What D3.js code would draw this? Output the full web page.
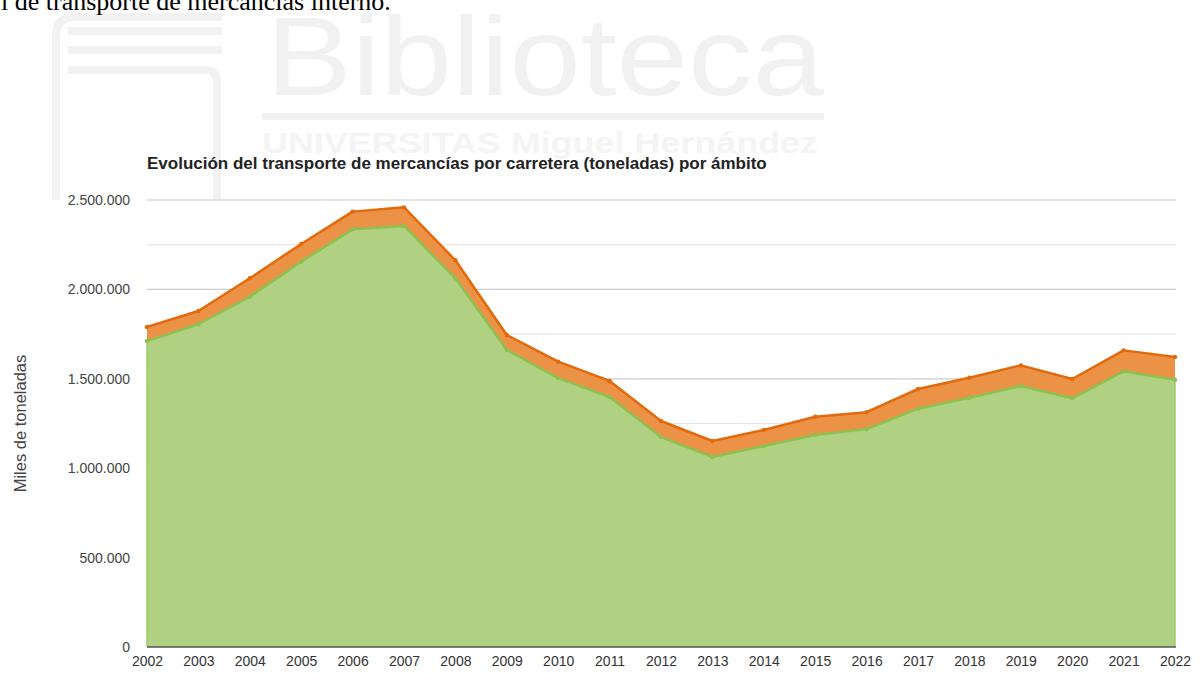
<!DOCTYPE html>
<html>
<head>
<meta charset="utf-8">
<script src="https://cdn.jsdelivr.net/npm/d3@7"></script>
<style>
  html, body { margin: 0; padding: 0; background: #fff; }
  svg { display: block; }
</style>
</head>
<body>
<svg id="chart" width="1204" height="673"></svg>
<script>
// ---- data (miles de toneladas) ----
const years = [2002, 2003, 2004, 2005, 2006, 2007, 2008, 2009, 2010, 2011, 2012,
               2013, 2014, 2015, 2016, 2017, 2018, 2019, 2020, 2021, 2022];
const interno = [1711000, 1805000, 1959000, 2155000, 2336000, 2355000, 2062000, 1661000,
                 1504000, 1398000, 1174000, 1063000, 1124000, 1186000, 1219000, 1333000,
                 1394000, 1460000, 1391000, 1542000, 1495000];
const internacional = [79000, 74000, 103000, 99000, 99000, 104000, 101000, 84000,
                       92000, 90000, 90000, 89000, 90000, 102000, 94000, 110000,
                       112000, 115000, 108000, 117000, 127000];
const yTicks = [0, 500000, 1000000, 1500000, 2000000, 2500000];
const yGrid = [250000, 500000, 750000, 1000000, 1250000, 1500000, 1750000, 2000000, 2250000, 2500000];
const xTicks = years;
const title = "Evolución del transporte de mercancías por carretera (toneladas) por ámbito";
const yLabel = "Miles de toneladas";
const topText = "l de transporte de mercancías interno.";
const wmTitle = "Biblioteca";
const wmSub = "UNIVERSITAS Miguel Hernández";

// ---- setup ----
const svg = d3.select("#chart");
const font = "'Liberation Sans', Arial, sans-serif";
const x = d3.scaleLinear().domain([2002, 2022]).range([147, 1175]);
const y = d3.scaleLinear().domain([0, 2500000]).range([647, 200]);
const loc = d3.formatLocale({decimal: ",", thousands: ".", grouping: [3], currency: ["", "€"]});
const fmt = loc.format(",d");

// ---- faint watermark ----
const wm = svg.append("g").attr("fill", "#f1f1f1").attr("stroke", "none");
wm.append("text").attr("x", 266).attr("y", 95)
  .attr("font-family", "'Liberation Sans Narrow', 'Liberation Sans', Arial, sans-serif")
  .attr("font-size", 112).attr("textLength", 558).attr("lengthAdjust", "spacingAndGlyphs")
  .text(wmTitle);
wm.append("rect").attr("x", 262).attr("y", 113).attr("width", 562).attr("height", 7);
wm.append("text").attr("x", 262).attr("y", 153)
  .attr("font-family", font).attr("font-size", 29).attr("font-weight", "bold")
  .attr("textLength", 556).attr("lengthAdjust", "spacingAndGlyphs")
  .attr("fill", "#f4f4f4")
  .text(wmSub);
const logo = svg.append("g").attr("fill", "none").attr("stroke", "#f2f2f2").attr("stroke-width", 8);
logo.append("path").attr("d", "M222,17 H75 Q56,17 56,36 V200");
logo.append("line").attr("x1", 68).attr("y1", 31).attr("x2", 222).attr("y2", 31);
logo.append("line").attr("x1", 68).attr("y1", 50).attr("x2", 222).attr("y2", 50);
logo.append("path").attr("d", "M68,70 H205 Q217,70 217,82 V200");

// ---- top cut text ----
svg.append("text").attr("x", 1).attr("y", 10)
  .attr("font-family", "'Liberation Serif', 'Times New Roman', serif")
  .attr("font-size", 26).attr("fill", "#000").text(topText);

// ---- title ----
svg.append("text").attr("x", 147).attr("y", 169)
  .attr("font-family", font).attr("font-size", 17).attr("font-weight", "bold")
  .attr("fill", "#222").text(title);

// ---- gridlines ----
svg.append("g").selectAll("line").data(yGrid).join("line")
  .attr("x1", 147).attr("x2", 1176)
  .attr("y1", d => y(d)).attr("y2", d => y(d))
  .attr("stroke", d => d % 500000 === 0 ? "#cccccc" : "#e6e6e6")
  .attr("stroke-width", 1.2);

// ---- stacked areas ----
const rows = years.map((yr, i) => ({year: yr, interno: interno[i], internacional: internacional[i]}));
const stack = d3.stack().keys(["interno", "internacional"]);
const series = stack(rows);
const fills = {interno: "#b0d181", internacional: "#ec9246"};
const strokes = {interno: "#8cc152", internacional: "#e36a0c"};

const area = d3.area()
  .x(d => x(d.data.year)).y0(d => y(d[0])).y1(d => y(d[1]));
const line = d3.line()
  .x(d => x(d.data.year)).y(d => y(d[1]));

svg.append("g").selectAll("path").data(series).join("path")
  .attr("d", area).attr("fill", s => fills[s.key]);

// side edges of the area
svg.append("line").attr("x1", x(2002)).attr("x2", x(2002))
  .attr("y1", y(0)).attr("y2", y(interno[0])).attr("stroke", "#9fcb6a").attr("stroke-width", 1.5);
svg.append("line").attr("x1", x(2022)).attr("x2", x(2022))
  .attr("y1", y(0)).attr("y2", y(interno[interno.length - 1])).attr("stroke", "#9fcb6a").attr("stroke-width", 1.5);

svg.append("g").selectAll("path").data(series).join("path")
  .attr("d", line).attr("fill", "none")
  .attr("stroke", s => strokes[s.key]).attr("stroke-width", 2.5)
  .attr("stroke-linejoin", "round");

svg.append("g").selectAll("g").data(series).join("g")
  .attr("fill", s => strokes[s.key])
  .selectAll("circle").data(s => s).join("circle")
  .attr("cx", d => x(d.data.year)).attr("cy", d => y(d[1])).attr("r", 2.2);

// ---- baseline ----
svg.append("line").attr("x1", 147).attr("x2", 1176)
  .attr("y1", y(0)).attr("y2", y(0)).attr("stroke", "#555").attr("stroke-width", 1.5);

// ---- axes ----
const yAxis = svg.append("g").attr("transform", "translate(147,0)")
  .call(d3.axisLeft(y).tickValues(yTicks).tickFormat(fmt).tickSize(0).tickPadding(17));
yAxis.select(".domain").remove();
yAxis.selectAll("text").attr("font-family", font).attr("font-size", 14).attr("fill", "#444");

const xAxis = svg.append("g").attr("transform", `translate(0,${y(0)})`)
  .call(d3.axisBottom(x).tickValues(xTicks).tickFormat(d3.format("d")).tickSize(0).tickPadding(9));
xAxis.select(".domain").remove();
xAxis.selectAll("text").attr("font-family", font).attr("font-size", 14).attr("fill", "#333");

// ---- y label ----
svg.append("text")
  .attr("transform", `translate(26,${(y(0) + y(2500000)) / 2}) rotate(-90)`)
  .attr("text-anchor", "middle")
  .attr("font-family", font).attr("font-size", 16.5).attr("fill", "#444")
  .text(yLabel);
</script>
</body>
</html>
